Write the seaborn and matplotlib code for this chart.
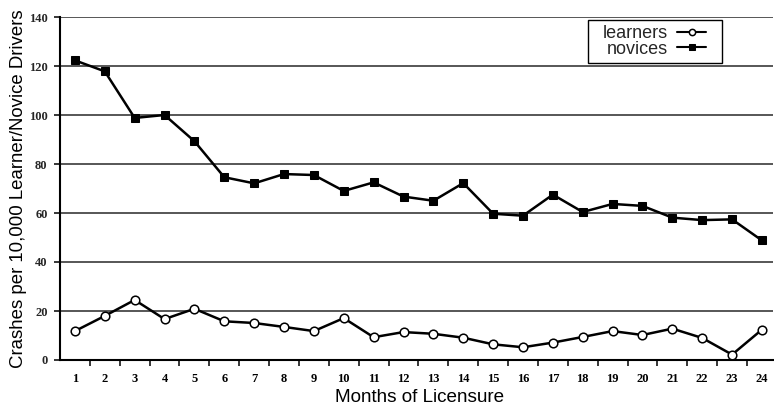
import matplotlib
matplotlib.use("Agg")
import matplotlib.pyplot as plt
from matplotlib.patches import Rectangle
import seaborn as sns
import pandas as pd
import numpy as np

months = list(range(1, 25))
novices = [122.3, 117.8, 98.8, 100.0, 89.3, 74.6, 72.1, 75.9, 75.5, 69.0, 72.5, 66.7,
           65.0, 72.2, 59.7, 58.9, 67.5, 60.4, 63.7, 62.9, 58.1, 57.1, 57.4, 48.8]
learners = [11.8, 18.0, 24.5, 16.7, 20.9, 15.8, 15.1, 13.5, 11.8, 17.1, 9.3, 11.4,
            10.7, 9.1, 6.4, 5.2, 7.1, 9.4, 11.8, 10.2, 12.8, 9.0, 2.2, 12.4]
y_ticks = [0, 20, 40, 60, 80, 100, 120, 140]

df = pd.concat([
    pd.DataFrame({"month": months, "rate": learners, "group": "learners"}),
    pd.DataFrame({"month": months, "rate": novices, "group": "novices"}),
])

sns.set_theme(style="white")
plt.rcParams["font.family"] = ["Liberation Sans", "DejaVu Sans"]

W, H = 774, 407
fig = plt.figure(figsize=(W / 100, H / 100), dpi=100)
ax = fig.add_axes([60 / W, 47 / H, 713 / W, 343 / H])

for y in y_ticks[1:]:
    ax.axhline(y, color="#3a3a3a", lw=1.2, zorder=0)

sns.lineplot(data=df[df.group == "learners"], x="month", y="rate", ax=ax,
             color="black", lw=1.8, marker="o", markersize=6.2,
             markerfacecolor="white", markeredgecolor="black", markeredgewidth=1.1,
             label="learners", zorder=3)
sns.lineplot(data=df[df.group == "novices"], x="month", y="rate", ax=ax,
             color="black", lw=1.8, marker="s", markersize=5.4,
             markerfacecolor="black", markeredgecolor="black",
             label="novices", zorder=3)

ax.set_xlim(0.5, 24.37)
ax.set_ylim(0, 140)
ax.set_yticks(y_ticks)
ax.set_xticks(months)
ax.set_xticks(np.arange(1.5, 24.5, 1.0), minor=True)

serif = ["Liberation Serif", "DejaVu Serif"]
ax.set_yticklabels([str(v) for v in y_ticks], family=serif, fontsize=9, fontweight="bold")
ax.set_xticklabels([str(m) for m in months], family=serif, fontsize=9, fontweight="bold")
ax.tick_params(axis="x", which="major", length=0, pad=9, colors="black")
ax.tick_params(axis="x", which="minor", bottom=True, length=4, width=1.1, color="black", direction="out")
ax.tick_params(axis="y", which="major", left=True, length=4, width=1.1, color="black",
               direction="out", pad=5)

for side in ["top", "right"]:
    ax.spines[side].set_visible(False)
for side in ["left", "bottom"]:
    ax.spines[side].set_color("black")
    ax.spines[side].set_linewidth(1.5)

ax.set_xlabel("")
ax.set_ylabel("")
xlab = fig.text(420 / W, 1 - 398 / H, "Months of Licensure", ha="center", va="center",
                fontsize=13, color="black")
ylab = fig.text(18.5 / W, 1 - 189 / H, "Crashes per 10,000 Learner/Novice Drivers",
                ha="center", va="center", rotation=90, fontsize=13, color="black")

# scale the axis titles to their printed lengths
renderer = fig.canvas.get_renderer()
for txt, target, horiz in [(xlab, 170, True), (ylab, 358, False)]:
    bb = txt.get_window_extent(renderer)
    size = bb.width if horiz else bb.height
    txt.set_fontsize(txt.get_fontsize() * target / size)

# legend entries with labels on the left, boxed by a separate frame
leg = ax.legend(loc="upper right", bbox_to_anchor=(706 / W, 1 - 25 / H),
                bbox_transform=fig.transFigure, markerfirst=False,
                frameon=False, fontsize=13, handlelength=1.6,
                borderpad=0.0, labelspacing=-0.08, handletextpad=0.5, borderaxespad=0.0)
for t in leg.get_texts():
    t.set_ha("right")
for line in leg.get_lines():
    line.set_linewidth(1.5)
    line.set_markersize(4.5)

fig.patches.append(Rectangle((588 / W, 1 - 63 / H), 134 / W, 43 / H,
                             transform=fig.transFigure, fill=False,
                             edgecolor="black", linewidth=1.0, zorder=5))

fig.savefig("out.png", dpi=100)
